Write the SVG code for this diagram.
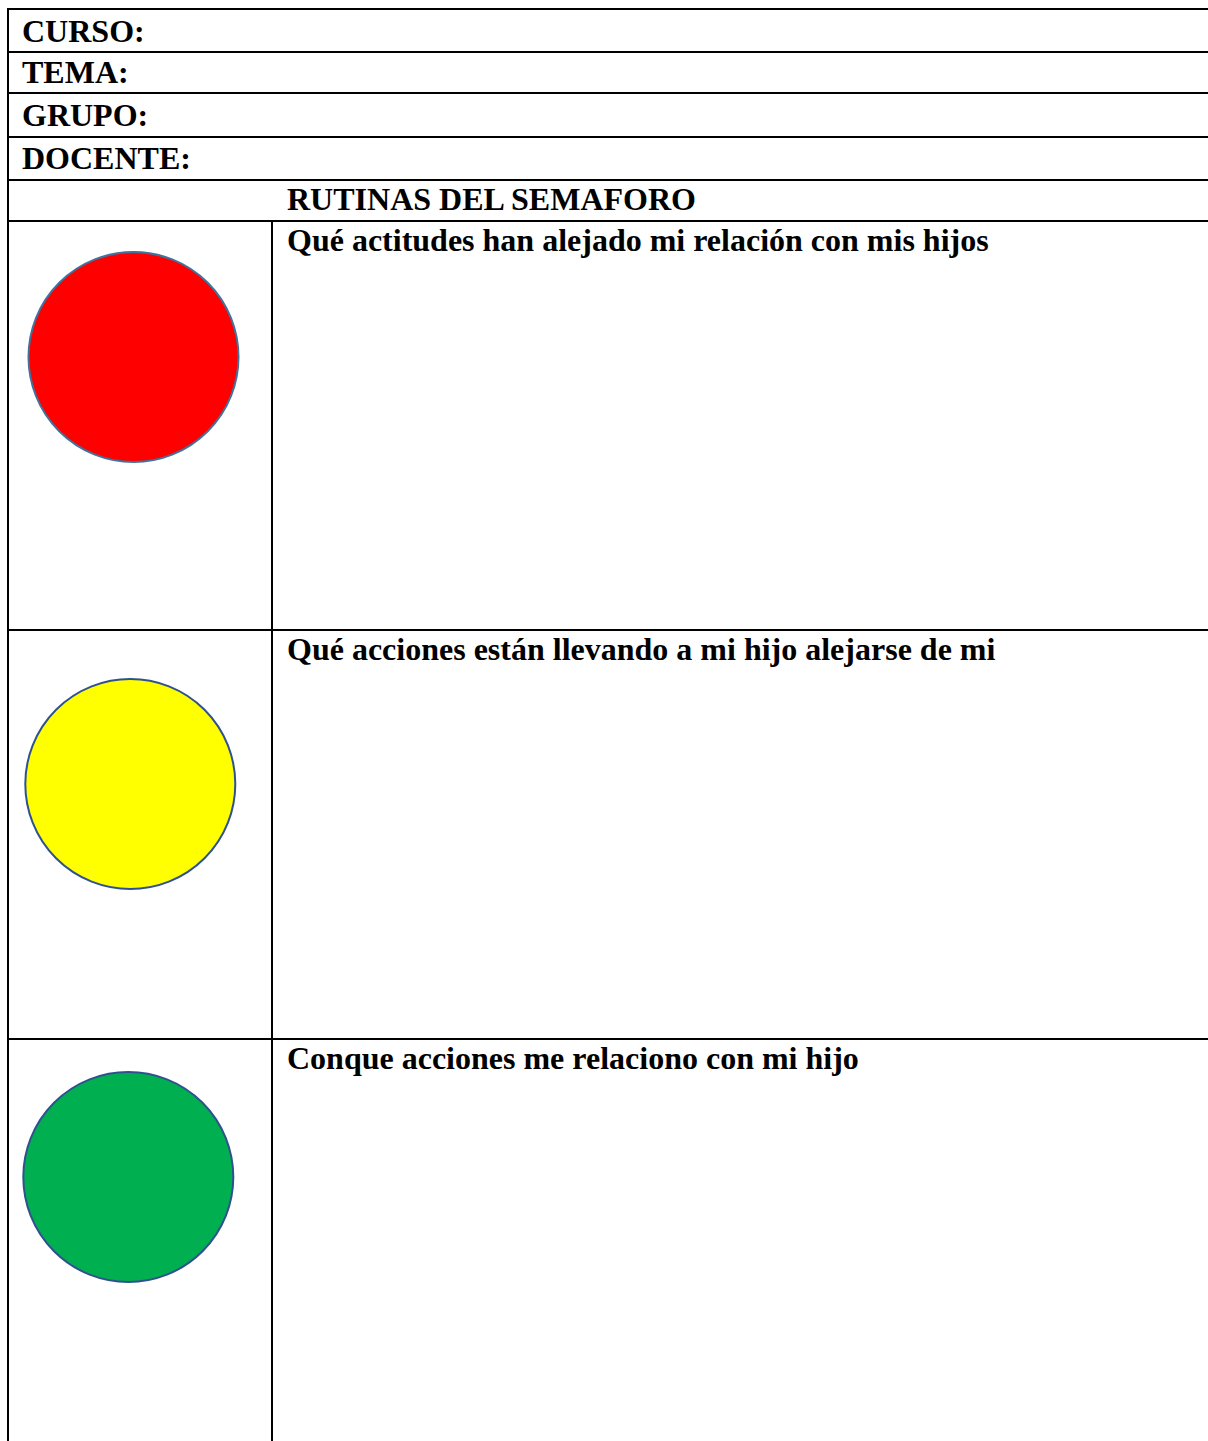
<svg xmlns="http://www.w3.org/2000/svg" width="1208" height="1441" viewBox="0 0 1208 1441">
<style>
.t{font-family:"Liberation Serif","Times New Roman",serif;font-weight:bold;font-size:32px;fill:#000}
.ln{stroke:#000;stroke-width:2;fill:none}
.c{stroke-width:2}
</style>
<rect width="1208" height="1441" fill="#fff"/>
<g id="grid">
<line class="ln" x1="7" y1="9" x2="1208" y2="9"/>
<line class="ln" x1="7" y1="52" x2="1208" y2="52"/>
<line class="ln" x1="7" y1="93" x2="1208" y2="93"/>
<line class="ln" x1="7" y1="137" x2="1208" y2="137"/>
<line class="ln" x1="7" y1="180" x2="1208" y2="180"/>
<line class="ln" x1="7" y1="221" x2="1208" y2="221"/>
<line class="ln" x1="7" y1="630" x2="1208" y2="630"/>
<line class="ln" x1="7" y1="1039" x2="1208" y2="1039"/>
<line class="ln" x1="8" y1="8" x2="8" y2="1441"/>
<line class="ln" x1="272" y1="221" x2="272" y2="1441"/>
</g>
<g id="curso"><text class="t" x="22" y="42">CURSO:</text></g>
<g id="tema"><text class="t" x="22" y="83">TEMA:</text></g>
<g id="grupo"><text class="t" x="22" y="126">GRUPO:</text></g>
<g id="docente"><text class="t" x="22" y="169">DOCENTE:</text></g>
<g id="titulo"><text class="t" x="287" y="210">RUTINAS DEL SEMAFORO</text></g>
<g id="rojo">
<circle class="c" cx="133.5" cy="357" r="105" fill="#ff0000" stroke="#41719c"/>
<text class="t" x="287" y="251">Qué actitudes han alejado mi relación con mis hijos</text>
</g>
<g id="amarillo">
<circle class="c" cx="130.3" cy="784" r="105" fill="#ffff00" stroke="#2f528f"/>
<text class="t" x="287" y="660">Qué acciones están llevando a mi hijo alejarse de mi</text>
</g>
<g id="verde">
<circle class="c" cx="128.3" cy="1177" r="105" fill="#00b050" stroke="#2f528f"/>
<text class="t" x="287" y="1069">Conque acciones me relaciono con mi hijo</text>
</g>
</svg>
